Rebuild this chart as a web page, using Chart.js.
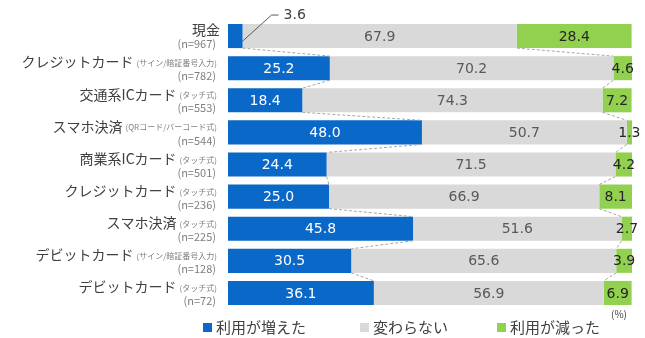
<!DOCTYPE html>
<html>
<head>
<meta charset="utf-8">
<script src="https://cdn.jsdelivr.net/npm/chart.js@4.4.0/dist/chart.umd.min.js"></script>
<style>
  html, body { margin: 0; padding: 0; background: #fff; }
  #wrap { width: 645px; height: 338px; }
</style>
</head>
<body>
<div id="wrap"><canvas id="payChart"></canvas></div>
<script>
// Data
const categories = ['現金', 'クレジットカード', '交通系ICカード', 'スマホ決済', '商業系ICカード', 'クレジットカード', 'スマホ決済', 'デビットカード', 'デビットカード'];
const subLabels = ['', '(サイン/暗証番号入力)', '(タッチ式)', '(QRコード/バーコード式)', '(タッチ式)', '(タッチ式)', '(タッチ式)', '(サイン/暗証番号入力)', '(タッチ式)'];
const sampleSizes = ['(n=967)', '(n=782)', '(n=553)', '(n=544)', '(n=501)', '(n=236)', '(n=225)', '(n=128)', '(n=72)'];
const seriesNames = ['利用が増えた', '変わらない', '利用が減った'];
const increased = [3.6, 25.2, 18.4, 48.0, 24.4, 25.0, 45.8, 30.5, 36.1];
const unchanged = [67.9, 70.2, 74.3, 50.7, 71.5, 66.9, 51.6, 65.6, 56.9];
const decreased = [28.4, 4.6, 7.2, 1.3, 4.2, 8.1, 2.7, 3.9, 6.9];
const unitLabel = '(%)';

const colors = ['#0a68c8', '#d9d9d9', '#92d050'];
const labelColors = ['#ffffff', '#595959', '#262626'];

// Category labels on the left (big name + small note, n on 2nd line)
const rowLabels = {
    id: 'rowLabels',
    afterDraw(chart) {
        const ctx = chart.ctx;
        const y = chart.scales.y;
        const right = chart.chartArea.left - 11;
        ctx.save();
        ctx.textBaseline = 'middle';
        ctx.textAlign = 'right';
        categories.forEach((name, i) => {
            const cy = y.getPixelForValue(i);
            let x = right + 3;
            if (subLabels[i]) {
                x = right;
                ctx.font = '8px "Noto Sans CJK JP"';
                ctx.fillStyle = '#7f7f7f';
                ctx.fillText(subLabels[i], x, cy - 5);
                x -= ctx.measureText(subLabels[i]).width + 3;
            }
            ctx.font = '14px "Noto Sans CJK JP"';
            ctx.fillStyle = '#404040';
            ctx.fillText(name, x, cy - 6);
            ctx.font = '11px "Noto Sans CJK JP"';
            ctx.fillStyle = '#7f7f7f';
            ctx.fillText(sampleSizes[i], right - 1, cy + 8);
        });
        ctx.restore();
    }
};

// Dashed series lines + value labels + legend
const barExtras = {
    id: 'barExtras',
    afterDatasetsDraw(chart) {
        const ctx = chart.ctx;
        const metas = [0, 1, 2].map(d => chart.getDatasetMeta(d));

        // series lines between neighbouring bars
        ctx.save();
        ctx.strokeStyle = '#a6a6a6';
        ctx.lineWidth = 1;
        ctx.setLineDash([3, 2]);
        [0, 1].forEach(d => {
            const els = metas[d].data;
            for (let i = 0; i < els.length - 1; i++) {
                const a = els[i], b = els[i + 1];
                ctx.beginPath();
                ctx.moveTo(a.x, a.y + a.height / 2);
                ctx.lineTo(b.x, b.y - b.height / 2);
                ctx.stroke();
            }
        });
        ctx.restore();

        // value labels
        ctx.save();
        ctx.font = '14px "DejaVu Sans"';
        ctx.textAlign = 'center';
        ctx.textBaseline = 'middle';
        metas.forEach((meta, d) => {
            meta.data.forEach((el, i) => {
                const v = chart.data.datasets[d].data[i];
                const txt = v.toFixed(1);
                if (d === 0 && i === 0) {
                    // small value: leader line
                    const sx = el.x - 1, sy = el.y + 6;
                    const ex = el.x + 29, ey = el.y - 21;
                    ctx.strokeStyle = '#595959';
                    ctx.lineWidth = 1;
                    ctx.beginPath();
                    ctx.moveTo(sx, sy);
                    ctx.lineTo(ex, ey);
                    ctx.lineTo(ex + 7, ey);
                    ctx.stroke();
                    ctx.fillStyle = '#404040';
                    ctx.textAlign = 'left';
                    ctx.fillText(txt, ex + 12, ey);
                    ctx.textAlign = 'center';
                    return;
                }
                ctx.fillStyle = labelColors[d];
                ctx.fillText(txt, (el.x + el.base) / 2, el.y + 1);
            });
        });
        ctx.restore();

        // legend
        ctx.save();
        const ly = chart.chartArea.bottom + 18;
        const legendX = [203, 360, 497];
        ctx.textBaseline = 'middle';
        ctx.textAlign = 'left';
        seriesNames.forEach((name, d) => {
            ctx.fillStyle = colors[d];
            ctx.fillRect(legendX[d], ly - 4, 9, 9);
            ctx.font = '15px "Noto Sans CJK JP"';
            ctx.fillStyle = '#404040';
            ctx.fillText(name, legendX[d] + 13, ly);
        });
        ctx.font = '10px "Noto Sans CJK JP"';
        ctx.fillStyle = '#404040';
        ctx.fillText(unitLabel, 611, ly - 13);
        ctx.restore();
    }
};

const ctx = document.getElementById('payChart').getContext('2d');
new Chart(ctx, {
    type: 'bar',
    data: {
        labels: categories,
        datasets: [
            { label: seriesNames[0], data: increased, backgroundColor: colors[0] },
            { label: seriesNames[1], data: unchanged, backgroundColor: colors[1] },
            { label: seriesNames[2], data: decreased, backgroundColor: colors[2] }
        ]
    },
    options: {
        indexAxis: 'y',
        responsive: true,
        maintainAspectRatio: false,
        animation: false,
        layout: { padding: { left: 228, right: 13, top: 20, bottom: 29 } },
        datasets: { bar: { categoryPercentage: 1, barPercentage: 0.75, borderWidth: 0 } },
        scales: {
            x: { stacked: true, min: 0, max: 100, display: false },
            y: { stacked: true, display: false }
        },
        plugins: { legend: { display: false }, tooltip: { enabled: false } }
    },
    plugins: [rowLabels, barExtras]
});
</script>
</body>
</html>
